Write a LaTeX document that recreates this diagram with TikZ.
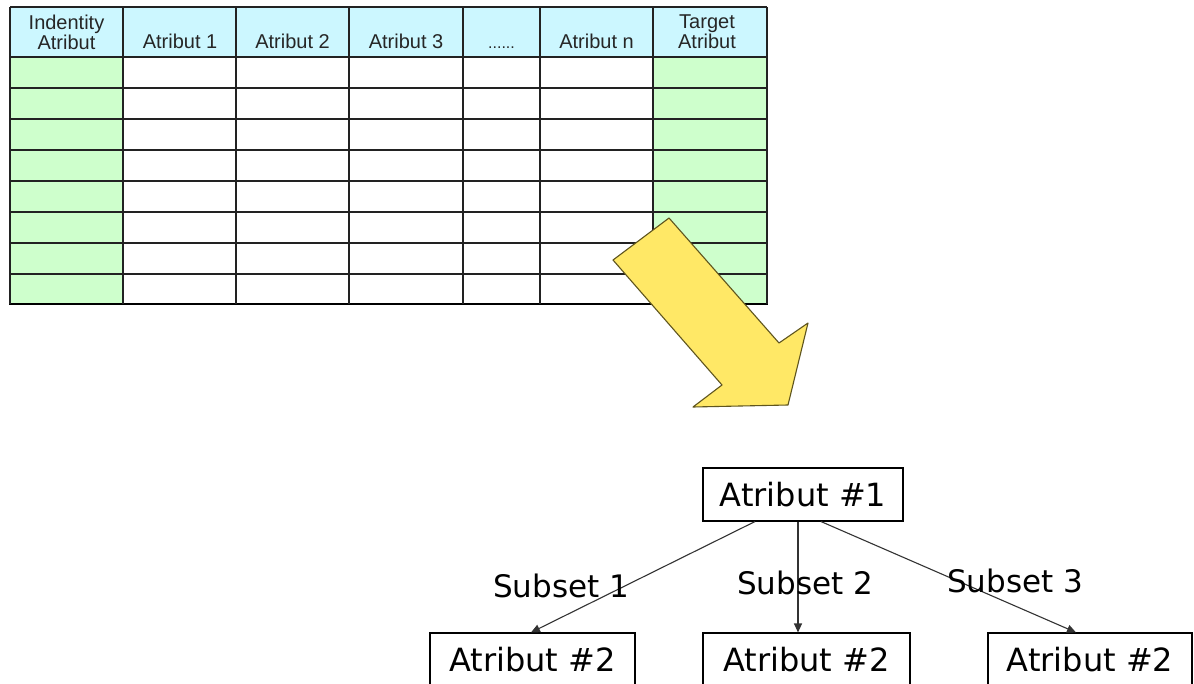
\documentclass[tikz,border=0pt]{standalone}
\usepackage{fontspec}
\setmainfont{Liberation Sans}
\newfontfamily\treefont{DejaVu Sans}
\usetikzlibrary{arrows.meta}
\definecolor{hdrcyan}{RGB}{204,247,255}
\definecolor{cellgreen}{RGB}{206,255,204}
\definecolor{arrowyellow}{RGB}{255,232,102}
\definecolor{arrowedge}{RGB}{95,85,30}
\definecolor{gridline}{RGB}{34,34,34}
\begin{document}
\begin{tikzpicture}[x=1pt,y=-1pt,
  gridln/.style={draw=gridline,line width=1.3pt},
  hdrlabel/.style={font=\fontsize{20}{20}\selectfont,inner sep=0pt,text=black!85},
  treebox/.style={draw=black,line width=1.1pt,inner sep=0pt,
    font=\treefont\fontsize{32}{34}\selectfont,text height=23pt,text depth=0pt},
  sublabel/.style={font=\treefont\fontsize{31}{33}\selectfont,inner sep=0pt,anchor=base},
  treeedge/.style={draw=black!80,line width=1.1pt,-{Triangle[length=9pt,width=8pt]}}
]
\useasboundingbox (0,0) rectangle (1194,684);
\clip (0,0) rectangle (1194,684);
\fill[white] (0,0) rectangle (1194,684);

% table fills
\fill[hdrcyan] (10,7) rectangle (767,57);
\fill[cellgreen] (10,57) rectangle (123,304);
\fill[cellgreen] (653,57) rectangle (767,304);

% grid
\foreach \yy in {7,57,88,119,150,181,212,243,274}
  \draw[gridln] (10,\yy) -- (767,\yy);
\draw[draw=black,line width=2.6pt] (9,304) -- (768,304);
\foreach \xx in {10,123,236,349,463,540,653,767}
  \draw[gridln] (\xx,7) -- (\xx,304);

% header labels
\node[hdrlabel,align=center,anchor=north] (hid) at (66.5,15) {Indentity\\Atribut};
\node[hdrlabel,anchor=base] (ha1) at (180,49) {Atribut 1};
\node[hdrlabel,anchor=base] (ha2) at (292.5,49) {Atribut 2};
\node[hdrlabel,anchor=base] (ha3) at (406,49) {Atribut 3};
\node[hdrlabel,anchor=base,font=\fontsize{16}{16}\selectfont] (hdots) at (501.5,49) {......};
\node[hdrlabel,anchor=base] (han) at (596.5,49) {Atribut n};
\node[hdrlabel,align=center,anchor=north] (htg) at (707,15) {Target\\Atribut};

% big yellow arrow
\filldraw[fill=arrowyellow,draw=arrowedge,line width=1.1pt,line join=round]
  (613,260) -- (669,218) -- (779,343) -- (808,323) -- (788,405) -- (693,407) -- (722,385) -- cycle;

% tree
\node[treebox,minimum width=200pt,minimum height=53pt] (a1) at (803,494.5) {Atribut \#1};
\node[treebox,minimum width=205pt,minimum height=54pt] (b1) at (532.5,660) {Atribut \#2};
\node[treebox,minimum width=207pt,minimum height=54pt] (b2) at (806.5,660) {Atribut \#2};
\node[treebox,minimum width=204pt,minimum height=54pt] (b3) at (1090,660) {Atribut \#2};

\draw[treeedge] ([xshift=-48pt]a1.south) -- ([xshift=-1.5pt]b1.north);
\draw[treeedge] ([xshift=-5pt]a1.south) -- ([xshift=-8.5pt]b2.north);
\draw[treeedge] ([xshift=18pt]a1.south) -- ([xshift=-14pt]b3.north);

\node[sublabel] (s1) at (561,597) {Subset 1};
\node[sublabel] (s2) at (805,594) {Subset 2};
\node[sublabel] (s3) at (1015,592) {Subset 3};
\end{tikzpicture}
\end{document}
